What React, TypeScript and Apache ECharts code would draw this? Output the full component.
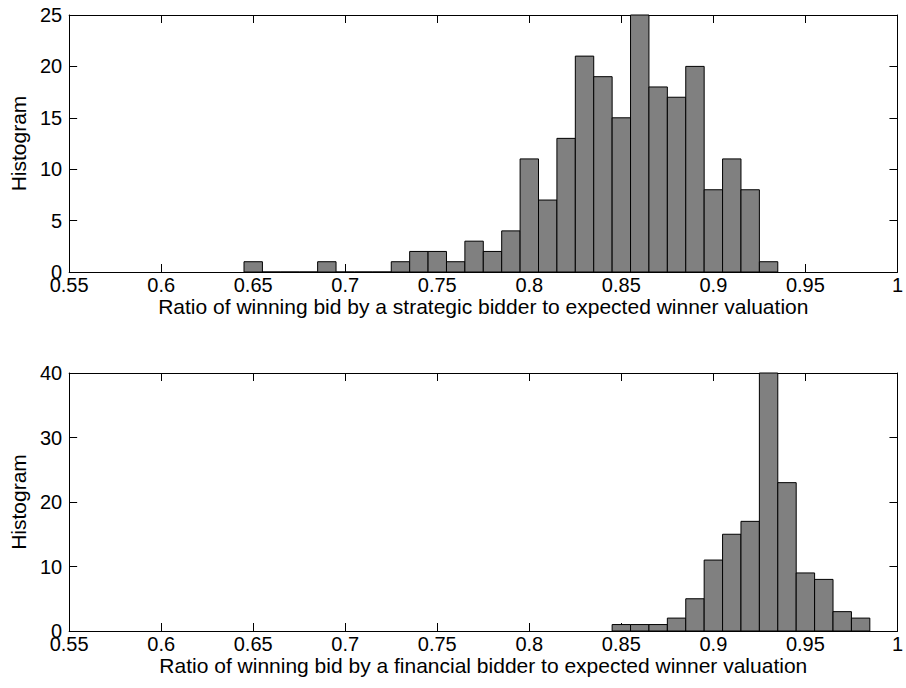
import React, { useEffect, useRef } from "react";
import * as echarts from "echarts";

// Top histogram: strategic bidder
const strategicBins = [0.65, 0.66, 0.67, 0.68, 0.69, 0.7, 0.71, 0.72, 0.73, 0.74, 0.75, 0.76, 0.77, 0.78, 0.79, 0.8, 0.81, 0.82, 0.83, 0.84, 0.85, 0.86, 0.87, 0.88, 0.89, 0.9, 0.91, 0.92, 0.93];
const strategicCounts = [1, 0, 0, 0, 1, 0, 0, 0, 1, 2, 2, 1, 3, 2, 4, 11, 7, 13, 21, 19, 15, 25, 18, 17, 20, 8, 11, 8, 1];

// Bottom histogram: financial bidder
const financialBins = [0.85, 0.86, 0.87, 0.88, 0.89, 0.9, 0.91, 0.92, 0.93, 0.94, 0.95, 0.96, 0.97, 0.98];
const financialCounts = [1, 1, 1, 2, 5, 11, 15, 17, 40, 23, 9, 8, 3, 2];

const BIN_WIDTH = 0.01;
const X_MIN = 0.55;
const X_MAX = 1;
const X_INTERVAL = 0.05;
const TOP_Y_MAX = 25;
const TOP_Y_INTERVAL = 5;
const BOTTOM_Y_MAX = 40;
const BOTTOM_Y_INTERVAL = 10;

const topXLabel = "Ratio of winning bid by a strategic bidder to expected winner valuation";
const bottomXLabel = "Ratio of winning bid by a financial bidder to expected winner valuation";
const yLabel = "Histogram";

const FONT = "'Liberation Sans', Arial, Helvetica, sans-serif";
const TICK_FS = 20;
const LABEL_FS = 21;

export default function App() {
  const ref = useRef<HTMLDivElement>(null);
  useEffect(() => {
    if (!ref.current) return;
    const chart = echarts.init(ref.current, undefined, { renderer: "svg" });

    const fmtX = (v: number) => String(parseFloat(v.toFixed(2)));
    const tickStyle = { show: true, inside: true, length: 8, lineStyle: { color: "#000", width: 1 } };
    const lineStyle = { show: true, lineStyle: { color: "#000", width: 1 } };
    const tickLabel = { color: "#000", fontSize: TICK_FS, fontFamily: FONT };
    const nameLabel = { color: "#000", fontSize: LABEL_FS, fontFamily: FONT };

    const mkX = (gridIndex: number, name: string, primary: boolean) => ({
      type: "value",
      gridIndex,
      min: X_MIN,
      max: X_MAX,
      interval: X_INTERVAL,
      position: primary ? "bottom" : "top",
      name: primary ? name : "",
      nameLocation: "middle",
      nameGap: 13,
      nameTextStyle: { ...nameLabel, verticalAlign: "top" },
      axisLine: { ...lineStyle, onZero: false },
      axisTick: tickStyle,
      splitLine: { show: false },
      axisLabel: primary
        ? { ...tickLabel, margin: 3, formatter: fmtX, showMinLabel: true, showMaxLabel: true, hideOverlap: false }
        : { show: false },
    });

    const mkY = (gridIndex: number, max: number, interval: number, primary: boolean) => ({
      type: "value",
      gridIndex,
      min: 0,
      max,
      interval,
      position: primary ? "left" : "right",
      name: primary ? yLabel : "",
      nameLocation: "middle",
      nameGap: 39,
      nameRotate: 90,
      nameTextStyle: nameLabel,
      axisLine: { ...lineStyle, onZero: false },
      axisTick: tickStyle,
      splitLine: { show: false },
      axisLabel: primary ? { ...tickLabel, margin: 7, showMinLabel: true, showMaxLabel: true } : { show: false },
    });

    const renderBar = (params: any, api: any) => {
      const c = api.value(0);
      const v = api.value(1);
      const p1 = api.coord([c - BIN_WIDTH / 2, v]);
      const p0 = api.coord([c + BIN_WIDTH / 2, 0]);
      return {
        type: "rect",
        shape: { x: p1[0], y: p1[1], width: p0[0] - p1[0], height: p0[1] - p1[1] },
        style: { fill: "#808080", stroke: "#000", lineWidth: 1 },
      };
    };

    chart.setOption({
      animation: false,
      backgroundColor: "#fff",
      grid: [
        { left: 69, top: 15, width: 831, height: 257 },
        { left: 69, top: 373, width: 831, height: 258 },
      ],
      xAxis: [mkX(0, topXLabel, true), mkX(0, "", false), mkX(1, bottomXLabel, true), mkX(1, "", false)],
      yAxis: [
        mkY(0, TOP_Y_MAX, TOP_Y_INTERVAL, true),
        mkY(0, TOP_Y_MAX, TOP_Y_INTERVAL, false),
        mkY(1, BOTTOM_Y_MAX, BOTTOM_Y_INTERVAL, true),
        mkY(1, BOTTOM_Y_MAX, BOTTOM_Y_INTERVAL, false),
      ],
      series: [
        {
          type: "custom",
          xAxisIndex: 0,
          yAxisIndex: 0,
          renderItem: renderBar,
          encode: { x: 0, y: 1 },
          data: strategicBins.map((b, i) => [b, strategicCounts[i]]),
          z: 1,
        },
        {
          type: "custom",
          xAxisIndex: 2,
          yAxisIndex: 2,
          renderItem: renderBar,
          encode: { x: 0, y: 1 },
          data: financialBins.map((b, i) => [b, financialCounts[i]]),
          z: 1,
        },
      ],
    });
    return () => chart.dispose();
  }, []);
  return <div ref={ref} style={{ position: "fixed", left: 0, top: 0, width: 906, height: 688, background: "#fff" }} />;
}
